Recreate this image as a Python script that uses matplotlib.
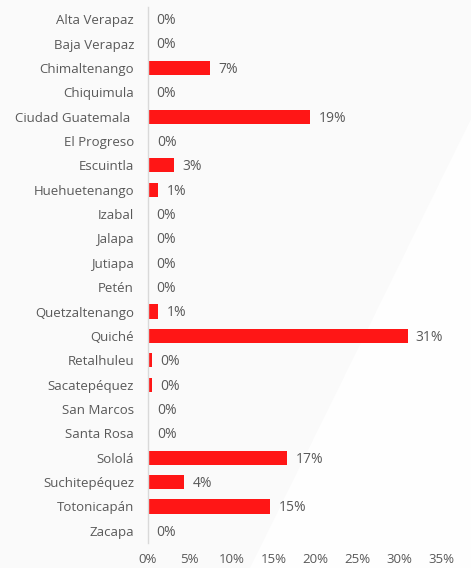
import matplotlib.pyplot as plt
from matplotlib.patches import Polygon

# Departamentos and their share (percent of total)
departamentos = ['Alta Verapaz', 'Baja Verapaz', 'Chimaltenango', 'Chiquimula',
                 'Ciudad Guatemala ', 'El Progreso', 'Escuintla', 'Huehuetenango',
                 'Izabal', 'Jalapa', 'Jutiapa', 'Petén', 'Quetzaltenango', 'Quiché',
                 'Retalhuleu', 'Sacatepéquez', 'San Marcos', 'Santa Rosa', 'Sololá',
                 'Suchitepéquez', 'Totonicapán', 'Zacapa']
porcentajes = [0.0, 0.0, 7.4, 0.0, 19.4, 0.15, 3.1, 1.2, 0.0, 0.0, 0.0, 0.0,
               1.2, 31.0, 0.45, 0.45, 0.1, 0.1, 16.6, 4.3, 14.6, 0.0]
x_ticks = [0, 5, 10, 15, 20, 25, 30, 35]

W, H = 471, 568
grey = '#595959'

plt.rcParams['font.family'] = ['Open Sans', 'DejaVu Sans']

fig = plt.figure(figsize=(W / 100, H / 100), dpi=100)
fig.patch.set_facecolor('#fafafa')

# background axes for the faint slide shape (lighter diagonal region)
bg_ax = fig.add_axes([0, 0, 1, 1], zorder=0)
bg_ax.set_xlim(0, W)
bg_ax.set_ylim(H, 0)
bg_ax.axis('off')
bg_ax.add_patch(Polygon([(250, H), (W, H), (W, 119)], closed=True,
                        facecolor='#fefefe', edgecolor='none'))

ax = fig.add_axes([148 / W, 1 - 543 / H, (441 - 148) / W, (543 - 7) / H], zorder=1)
ax.patch.set_alpha(0)

y = list(range(len(departamentos)))
ax.barh(y, porcentajes, height=0.58, color='#ff1616', edgecolor='none')

for yi, v in zip(y, porcentajes):
    ax.annotate('{:.0f}%'.format(v), xy=(v, yi), xytext=(6, -1),
                textcoords='offset points', va='center', ha='left',
                fontsize=10, color=grey)

ax.set_xlim(0, 35)
ax.set_ylim(len(departamentos) - 0.5, -0.5)
ax.set_yticks(y)
ax.set_yticklabels(departamentos, fontsize=9.5, color=grey)
ax.set_xticks(x_ticks)
ax.set_xticklabels(['{}%'.format(t) for t in x_ticks], fontsize=9.5, color=grey)
ax.tick_params(axis='both', length=0)
ax.tick_params(axis='y', pad=10)
ax.tick_params(axis='x', pad=7)

for s in ['top', 'right', 'bottom']:
    ax.spines[s].set_visible(False)
ax.spines['left'].set_color('#d9d9d9')
ax.spines['left'].set_linewidth(1)

fig.savefig('out.png', dpi=100, facecolor=fig.get_facecolor())
